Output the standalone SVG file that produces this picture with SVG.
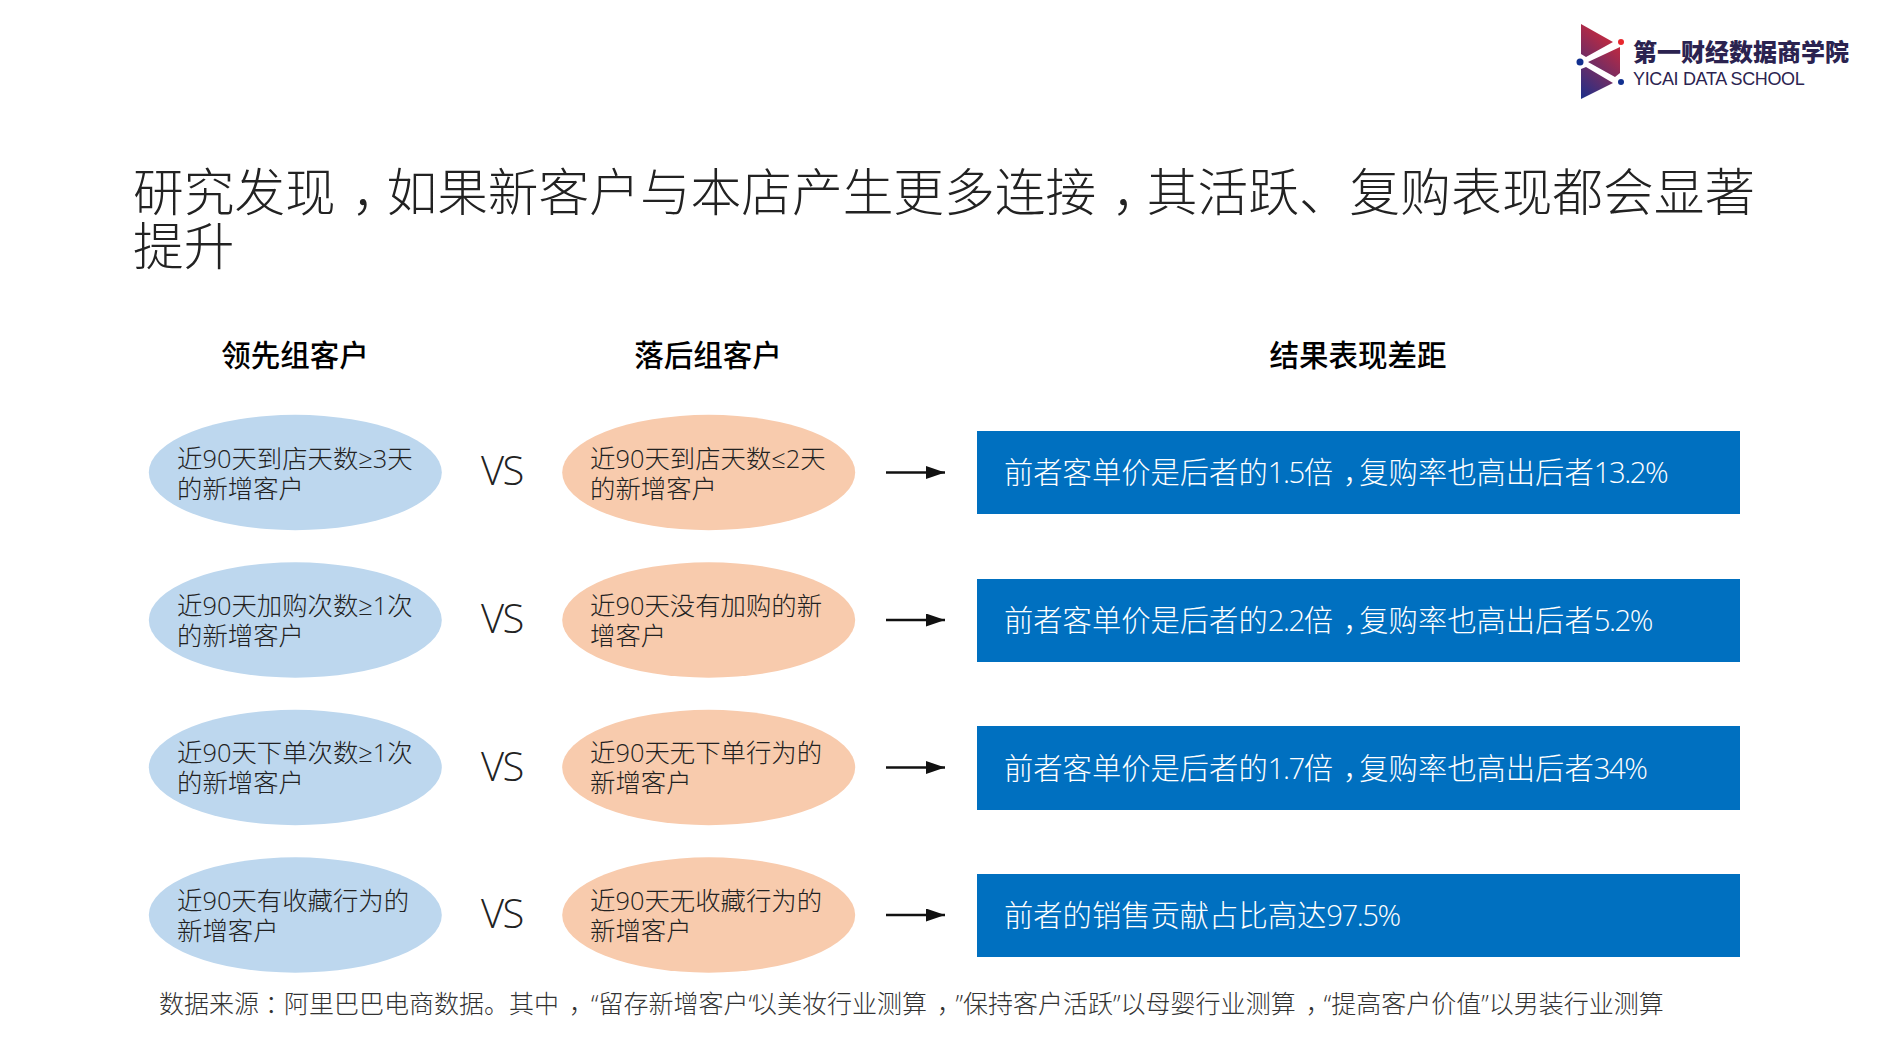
<svg xmlns="http://www.w3.org/2000/svg" width="1890" height="1063" viewBox="0 0 1890 1063">
<style>
text{font-family:"Open Sans","Noto Sans CJK SC",sans-serif;font-weight:300;fill:#111}
.t{font-size:50.7px;fill:#222}
.h{font-size:29.5px;font-family:"Noto Sans CJK SC",sans-serif;font-weight:500;fill:#000}
.e{font-size:25.4px;fill:#222}
.b{font-size:29.3px;fill:#fff}
.b .n{letter-spacing:-.05em}
.vs{font-size:40px;fill:#222;letter-spacing:-1.5px}
.blue{fill:#bdd7ee}
.org{fill:#f8cbad}
.box{fill:#0070c0}
.f{font-size:25px;fill:#333}
.con{stroke:#111;stroke-width:2.5;fill:none;marker-end:url(#ah)}
</style>
<defs>
<marker id="ah" markerUnits="userSpaceOnUse" markerWidth="20" markerHeight="14" refX="19" refY="6.5" orient="auto"><path d="M0 0L19 6.5L0 13z" fill="#111"/></marker>
<linearGradient id="lg" gradientUnits="userSpaceOnUse" x1="1625" y1="30" x2="1570" y2="95"><stop offset="0" stop-color="#e8282e"/><stop offset="1" stop-color="#12308f"/></linearGradient>
</defs>
<rect width="1890" height="1063" fill="#fff"/>
<g id="logo">
<path fill="url(#lg)" d="M1581 24L1613 42L1586 57L1581 54zM1588 62L1620 47V73L1615 77zM1581 69L1586 67L1613 83L1581 99z"/>
<circle cx="1621" cy="42" r="3" fill="#e8282e"/><circle cx="1580" cy="62" r="3.5" fill="#12308f"/><circle cx="1621" cy="82" r="3" fill="#12308f"/>
<text x="1633" y="61" style="font-family:'Noto Sans CJK SC',sans-serif;font-weight:900;font-size:24px;fill:#2b2350">第一财经数据商学院</text>
<text x="1633" y="85" style="font-family:'Liberation Sans',sans-serif;font-weight:400;font-size:18px;letter-spacing:-.35px;fill:#2b2350">YICAI DATA SCHOOL</text>
</g>
<g id="title"><text class="t" x="133" y="211">研究发现<tspan dx="16">，</tspan><tspan dx="-16">如果新客户与本店产生更多连接</tspan><tspan dx="16">，</tspan><tspan dx="-16">其活跃、复购表现都会显著</tspan></text><text class="t" x="133" y="265">提升</text></g>
<g id="h1"><text class="h" x="295" y="366" text-anchor="middle">领先组客户</text></g>
<g id="h2"><text class="h" x="708" y="366" text-anchor="middle">落后组客户</text></g>
<g id="h3"><text class="h" x="1358" y="366" text-anchor="middle">结果表现差距</text></g>

<g id="r1a"><ellipse class="blue" cx="295.3" cy="472.5" rx="146.5" ry="57.7"/><text class="e" x="177" y="467.5">近90天到店天数≥3天</text><text class="e" x="177" y="497.5">的新增客户</text></g>
<g id="r1v"><text class="vs" x="481" y="485">VS</text></g>
<g id="r1b"><ellipse class="org" cx="708.7" cy="472.5" rx="146.5" ry="57.7"/><text class="e" x="590" y="467.5">近90天到店天数≤2天</text><text class="e" x="590" y="497.5">的新增客户</text></g>
<g id="r1c"><rect class="box" x="977" y="431" width="763" height="83"/><text class="b" x="1004" y="483">前者客单价是后者的<tspan class="n">1.5</tspan>倍<tspan dx="10">，</tspan><tspan dx="-13">复购率也高出后者</tspan><tspan class="n">13.2%</tspan></text></g>

<g id="r2a"><ellipse class="blue" cx="295.3" cy="620" rx="146.5" ry="57.7"/><text class="e" x="177" y="615">近90天加购次数≥1次</text><text class="e" x="177" y="645">的新增客户</text></g>
<g id="r2v"><text class="vs" x="481" y="633">VS</text></g>
<g id="r2b"><ellipse class="org" cx="708.7" cy="620" rx="146.5" ry="57.7"/><text class="e" x="590" y="615">近90天没有加购的新</text><text class="e" x="590" y="645">增客户</text></g>
<g id="r2c"><rect class="box" x="977" y="579" width="763" height="83"/><text class="b" x="1004" y="631">前者客单价是后者的<tspan class="n">2.2</tspan>倍<tspan dx="10">，</tspan><tspan dx="-13">复购率也高出后者</tspan><tspan class="n">5.2%</tspan></text></g>

<g id="r3a"><ellipse class="blue" cx="295.3" cy="767.5" rx="146.5" ry="57.7"/><text class="e" x="177" y="762">近90天下单次数≥1次</text><text class="e" x="177" y="792">的新增客户</text></g>
<g id="r3v"><text class="vs" x="481" y="781">VS</text></g>
<g id="r3b"><ellipse class="org" cx="708.7" cy="767.5" rx="146.5" ry="57.7"/><text class="e" x="590" y="762">近90天无下单行为的</text><text class="e" x="590" y="792">新增客户</text></g>
<g id="r3c"><rect class="box" x="977" y="726" width="763" height="84"/><text class="b" x="1004" y="779">前者客单价是后者的<tspan class="n">1.7</tspan>倍<tspan dx="10">，</tspan><tspan dx="-13">复购率也高出后者</tspan><tspan class="n">34%</tspan></text></g>

<g id="r4a"><ellipse class="blue" cx="295.3" cy="915" rx="146.5" ry="57.7"/><text class="e" x="177" y="910">近90天有收藏行为的</text><text class="e" x="177" y="940">新增客户</text></g>
<g id="r4v"><text class="vs" x="481" y="928">VS</text></g>
<g id="r4b"><ellipse class="org" cx="708.7" cy="915" rx="146.5" ry="57.7"/><text class="e" x="590" y="910">近90天无收藏行为的</text><text class="e" x="590" y="940">新增客户</text></g>
<g id="r4c"><rect class="box" x="977" y="874" width="763" height="83"/><text class="b" x="1004" y="926">前者的销售贡献占比高达<tspan class="n">97.5%</tspan></text></g>

<g id="connectors">
<path class="con" d="M886 472.5H945"/><path class="con" d="M886 620H945"/><path class="con" d="M886 767.5H945"/><path class="con" d="M886 915H945"/>
</g>
<g id="note"><text class="f" x="159" y="1013">数据来源<tspan dx="6">：</tspan><tspan dx="-6">阿里巴巴电商数据。其中</tspan><tspan dx="10">，</tspan><tspan dx="-3">“留存新增客户“</tspan><tspan dx="-4">以美妆行业测算</tspan><tspan dx="10">，</tspan><tspan dx="6">”保持客户活跃”以母婴行业测算</tspan><tspan dx="10">，</tspan><tspan dx="-7">“提高客户价值”以男装行业测算</tspan></text></g>
</svg>
